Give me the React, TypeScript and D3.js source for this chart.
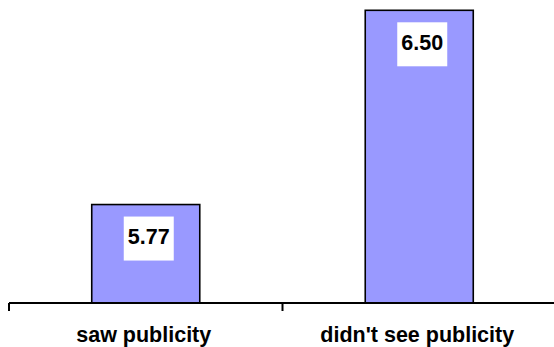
import React from "react";
import * as d3 from "d3";

const categories = ["saw publicity", "didn't see publicity"];
const values = [5.77, 6.5];
const valueLabels = ["5.77", "6.50"];

const W = 554;
const H = 347;
const FONT = "Arial, 'Liberation Sans', Helvetica, sans-serif";

export default function App() {
  const x = d3
    .scaleBand<string>()
    .domain(categories)
    .range([9, 556])
    .paddingInner(0.605)
    .paddingOuter(0.3025);

  const y = d3.scaleLinear().domain([5.4, 6.5]).range([303, 10.3]);
  const baseY = y(5.4);
  const step = x.step();
  const tickXs = d3.range(categories.length + 1).map((i) => 9 + i * step);

  return (
    <svg
      width={W}
      height={H}
      style={{ position: "absolute", left: 0, top: 0, background: "#fff" }}
    >
      {categories.map((c, i) => {
        const bx = x(c)!;
        const bw = x.bandwidth();
        const top = y(values[i]);
        const cx = bx + bw / 2;
        return (
          <g key={c}>
            <rect
              x={bx}
              y={top}
              width={bw}
              height={baseY - top}
              fill="#9999FF"
              stroke="#000"
              strokeWidth={1.6}
            />
            <rect x={cx - 22} y={top + 12} width={50} height={44} fill="#fff" />
            <text
              x={cx + 3}
              y={top + 39.5}
              textAnchor="middle"
              fontFamily={FONT}
              fontWeight="bold"
              fontSize={21.5}
              fill="#000"
            >
              {valueLabels[i]}
            </text>
            <text
              x={cx - 2}
              y={342}
              textAnchor="middle"
              fontFamily={FONT}
              fontWeight="bold"
              fontSize={21.5}
              fill="#000"
            >
              {c}
            </text>
          </g>
        );
      })}
      <line x1={9} x2={556} y1={baseY} y2={baseY} stroke="#000" strokeWidth={2} />
      {tickXs.map((tx, i) => (
        <line key={i} x1={tx} x2={tx} y1={baseY} y2={baseY + 8} stroke="#000" strokeWidth={2} />
      ))}
    </svg>
  );
}
